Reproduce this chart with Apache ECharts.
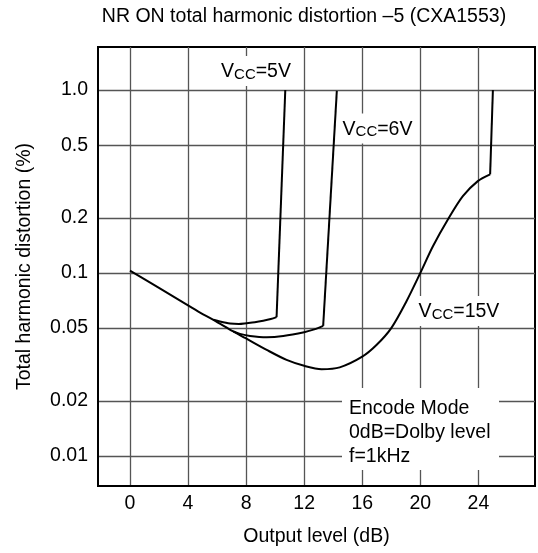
<!DOCTYPE html>
<html>
<head>
<meta charset="utf-8">
<script src="https://cdn.jsdelivr.net/npm/echarts@6/dist/echarts.min.js"></script>
<style>
html,body{margin:0;padding:0;background:#fff;}
#c{width:538px;height:553px;}
</style>
</head>
<body>
<div id="c"></div>
<script>
// ---- data (Output level dB, THD %) ----
var xTicks = [0, 4, 8, 12, 16, 20, 24];
var yTicks = [0.01, 0.02, 0.05, 0.1, 0.2, 0.5, 1.0];
var yTickLabels = ['0.01', '0.02', '0.05', '0.1', '0.2', '0.5', '1.0'];

// last point of each curve = top of the steep clipping rise
var vcc15X = [0, 2, 4, 4.83, 5.75, 7.12, 7.97, 9.42, 10.79, 12, 13.2, 14.45, 16, 16.98, 18.0, 19.04, 20.0, 20.87, 21.9, 22.93, 23.96, 24.81, 25.0];
var vcc15Y = [0.103, 0.083, 0.0665, 0.0608, 0.0555, 0.0479, 0.044, 0.038, 0.0335, 0.0311, 0.0298, 0.0305, 0.0349, 0.0404, 0.050, 0.0699, 0.100, 0.140, 0.196, 0.263, 0.318, 0.346, 1.0];

var vcc5X = [5.75, 6.2, 6.9, 7.5, 8.04, 8.6, 9.18, 9.7, 10.1, 10.7];
var vcc5Y = [0.0555, 0.0543, 0.0530, 0.0527, 0.0532, 0.0538, 0.0548, 0.0560, 0.0574, 1.0];

var vcc6X = [7.12, 7.58, 8.27, 9.42, 10.56, 12, 12.7, 13.31, 14.25];
var vcc6Y = [0.0479, 0.0465, 0.0453, 0.0446, 0.0453, 0.0475, 0.0492, 0.0514, 0.99];

function zip(xs, ys) { return xs.map(function (x, i) { return [x, ys[i]]; }); }

var FONT = '"Liberation Sans", Arial, Helvetica, sans-serif';
var chart = echarts.init(document.getElementById('c'), null, {renderer: 'canvas'});

var lineStyle = {color: '#000', width: 2};
// curved part (smoothed) + steep rise (straight) of one curve
function mkSeries(name, xs, ys) {
  var n = xs.length;
  return [{
    name: name, type: 'line', data: zip(xs.slice(0, n - 1), ys.slice(0, n - 1)),
    showSymbol: false, symbol: 'none', lineStyle: lineStyle,
    smooth: 0.3, z: 5, animation: false
  }, {
    name: name, type: 'line', data: zip(xs.slice(n - 2), ys.slice(n - 2)),
    showSymbol: false, symbol: 'none', lineStyle: lineStyle,
    smooth: false, z: 5, animation: false
  }];
}

var vccRich = {
  v: {fontSize: 19.5, fontFamily: FONT, color: '#000', lineHeight: 22, verticalAlign: 'bottom'},
  c: {fontSize: 15, fontFamily: FONT, color: '#000', lineHeight: 18, verticalAlign: 'bottom'}
};
function vccLabel(txt, x, y) {
  return {
    type: 'text', x: x, y: y, z: 50,
    style: {
      text: '{v|V}{c|CC}{v|' + txt + '}', rich: vccRich,
      align: 'center', verticalAlign: 'middle',
      backgroundColor: '#fff', padding: [4, 5, 4, 5]
    }
  };
}

chart.setOption({
  animation: false,
  backgroundColor: '#fff',
  title: {
    text: 'NR ON total harmonic distortion \u20135 (CXA1553)',
    left: 299, top: 2, textAlign: 'center',
    textStyle: {fontFamily: FONT, fontSize: 19.5, fontWeight: 'normal', color: '#000'}
  },
  grid: {left: 98, top: 47, right: 3, bottom: 67, show: true, borderColor: '#000', borderWidth: 2, containLabel: false},
  xAxis: {
    type: 'value', min: -2.2, max: 27.9,
    name: 'Output level (dB)', nameLocation: 'middle', nameGap: 51,
    nameTextStyle: {fontFamily: FONT, fontSize: 19.5, color: '#000', verticalAlign: 'middle'},
    axisLine: {show: true, onZero: false, lineStyle: {color: '#000', width: 2}},
    axisTick: {show: false, customValues: xTicks},
    axisLabel: {customValues: xTicks, fontFamily: FONT, fontSize: 19.5, color: '#000', margin: 8},
    splitLine: {show: true, lineStyle: {color: '#555', width: 1.3}}
  },
  yAxis: {
    type: 'log', logBase: 10, min: 0.00685, max: 1.72,
    name: 'Total harmonic distortion (%)', nameLocation: 'middle', nameGap: 73,
    nameTextStyle: {fontFamily: FONT, fontSize: 19.5, color: '#000', verticalAlign: 'middle'},
    axisLine: {show: true, onZero: false, lineStyle: {color: '#000', width: 2}},
    axisTick: {show: false, customValues: yTicks},
    axisLabel: {
      customValues: yTicks, fontFamily: FONT, fontSize: 19.5, color: '#000', margin: 10,
      formatter: function (v) {
        for (var i = 0; i < yTicks.length; i++) { if (Math.abs(yTicks[i] - v) / yTicks[i] < 1e-6) return yTickLabels[i]; }
        return '';
      }
    },
    splitLine: {show: true, lineStyle: {color: '#555', width: 1.3}},
    minorSplitLine: {show: false}
  },
  series: [].concat(
    mkSeries('Vcc=15V', vcc15X, vcc15Y),
    mkSeries('Vcc=5V', vcc5X, vcc5Y),
    mkSeries('Vcc=6V', vcc6X, vcc6Y)
  ),
  graphic: [
    vccLabel('=5V', 256, 71),
    vccLabel('=6V', 377.5, 128.5),
    vccLabel('=15V', 459, 311),
    {type: 'rect', z: 49, shape: {x: 342, y: 388, width: 157, height: 82}, style: {fill: '#fff'}},
    {
      type: 'text', x: 349, y: 397, z: 50,
      style: {
        text: 'Encode Mode\n0dB=Dolby level\nf=1kHz',
        fontFamily: FONT, fontSize: 19.5, lineHeight: 24, fill: '#000',
        align: 'left', verticalAlign: 'top'
      }
    }
  ]
});
</script>
</body>
</html>
